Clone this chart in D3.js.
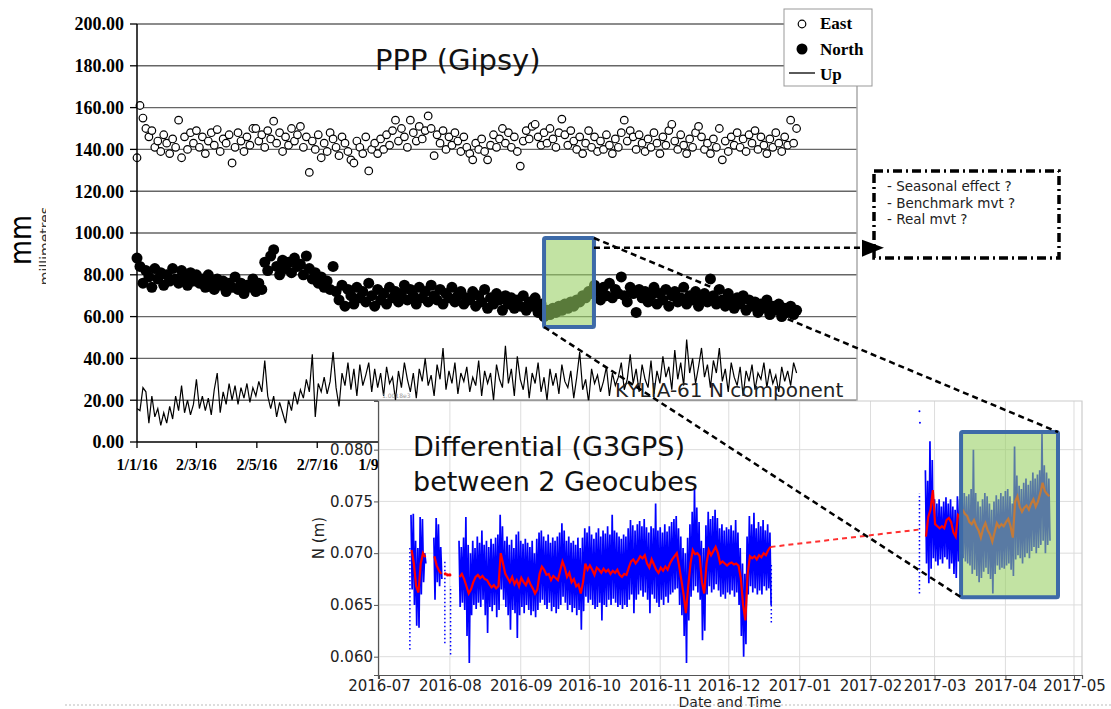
<!DOCTYPE html>
<html>
<head>
<meta charset="utf-8">
<script src="https://cdn.jsdelivr.net/npm/d3@7"></script>
<style>
  body { margin: 0; background: #fff; }
  svg { display: block; }
</style>
</head>
<body>
<div class="chart"></div>
<script>
/* ---------- PPP (Gipsy) : mm, one sample every 3 days from 1/1/16 ---------- */
var pppStep = 3;
var eastMm = [136,161,155,150,146,149,141,144,139,147,143,138,145,141,154,136,146,140,148,143,
  149,141,146,138,144,148,142,149.5,139,145,143,147,133.5,141,148,144,139,146,142,150,
  150,144,147,141,149,145,153.5,143,148,139,146,142,150,144,147,151,141,146,129,144,
  140,147,136,143,139,148,145,141,137,146,143,139,135,133.5,144,141,138,146,129.7,140,
  143,138,145,140,147,142,149,154,144,150,146,141,154,148,144,151,145,149,156,150,
  137,147,143,149,140,146,142,148,144,139,146,141,138,135,143,140,145,139,135,142,
  147,141,145,150,143,148,141,146,139,132,144,149,145,151,152,146,142,148,143,150,
  145,141,148,154.5,147,142,149,144,140,146,138,143,149,141,146,139,144,140,147,142,
  138,145,141,148,154,144,149,146,140,147,143,139,145,141,148,143,138,146,142,149,
  152,144,140,147,142,138,145,141,148,151,146,140,143,138,145,141,150,135,144,139,
  146,142,148,141,145,139,147,143,149,140,146,142,138,145,141,148,143,139,146,142,154,143,150];
var northMm = [88,84,76,82,79,74,83,78,81,75,80,77,83,78,76,82,79,75,81,77,80,76,
  78,74,80,76,73,78,75,77,72,76,74,79,73,76,71,75,74,78,72,76,73,
  86,82,89,
  92,84,80,87,83,86,81,88,84,85,80,89,
  83,78,81,76,79,74,77,73,
  84,72,68,75,65,73,70,66,74,69,72,67,76,70,65,73,68,71,66,74,69,72,67,
  71,75,68,73,70,66,74,69,72,67,75,70,68,73,66,71,69,74,67,70,72,66,69,
  68,72,65,70,67,73,64,69,66,71,68,63,70,66,69,64,68,65,70,63,67,65,69,62,66,
  60,63,61,64,62,65,63,66,64,67,65,68,67,70,69,72,71,75,
  72,68,74,70,76,69,73,71,79,70,67,74,71,62,73,69,
  72,67,70,74,66,71,68,73,65,70,72,67,69,74,66,70,68,72,65,69,71,67,
  78,70,66,73,68,65,71,67,64,69,66,70,63,68,65,67,62,66,64,68,61,65,63,66,60,64,62,65,61,63];
var upMm = [16,15,26,24,9,22,12,16,8,14,9,17,11,22,15,27,14,20,13,18,
  30,16,22,15,21,13,25,33,14,24,18,28,20,27,18,26,21,28,19,26,
  22,29,24,39,22,16,22,12,19,14,9,20,15,24,18,25,21,30,24,42,
  12,28,24,31,23,29,43,26,17,33,27,38,25,35,22,37,27,32,38,24,35,26,
  33,22,36,28,31,20,34,26,38,30,24,33,21,35,29,40,27,32,22,37,30,45,25,34,28,38,23,33,29,
  36,24,31,27,39,22,34,28,33,20,37,30,26,46,28,35,22,41,30,25,36,21,33,28,38,24,31,20,35,27,
  33,23,37,29,26,34,21,31,43,25,30,19,35,28,32,24,29,36,22,33,27,31,38,25,30,42,28,35,24,37,
  30,26,39,23,34,28,41,31,36,25,44,30,38,27,49,33,40,28,36,45,31,37,26,39,33,45,29,35,24,38,
  31,27,36,22,34,29,37,25,33,30,38,26,35,28,32,24,36,29,34,27,38,33];
var pppYTicks = [0,20,40,60,80,100,120,140,160,180,200];
var pppTickDays = [0,60,121,182,244];
var pppTickLabels = ["1/1/16","2/3/16","2/5/16","2/7/16","1/9/16"];
var pppZoomDays = [411, 461.4];
var pppZoomMm = [55, 97.6];
var pppArrowMm = 93;

/* ---------- G3GPS differential : N in metres, daily max / min / smoothed ---------- */
var julyStart = 14, julyHi = [0.0737,0.0738,0.0712,0.0705,0.0735,0.0733,0.0700],
    julyLo = [0.0665,0.0650,0.0630,0.0628,0.0660,0.0672,0.0690],
    julyMean = [0.0703,0.0690,0.0668,0.0662,0.0690,0.0700,0.0696];
var lateJulyStart = 24, lateJulyHi = [0.0715,0.0734,0.0728,0.0706],
    lateJulyLo = [0.0655,0.0672,0.0668,0.0675],
    lateJulyMean = [0.0697,0.0688,0.0683,0.0680];
var mainStart = 35;
var mainHi = [0.0712,0.0706,0.0715,0.0735,0.0708,0.0700, 0.0712,0.0705,0.0716,0.0710,0.0722,0.0708,
  0.0712,0.0706,0.0714,0.0709,0.0715,0.0718, 0.0737,0.0726,0.0712,0.0716,0.0708,0.0713,
  0.0705,0.0718,0.0721,0.0712,0.0709,0.0714, 0.0710,0.0706,0.0712,0.0700,0.0714,0.0720,
  0.0722,0.0716,0.0712,0.0718,0.0710,0.0715, 0.0712,0.0716,0.0720,0.0729,0.0722,0.0712,
  0.0716,0.0710,0.0712,0.0708,0.0715,0.0705, 0.0715,0.0724,0.0720,0.0726,0.0718,0.0714,
  0.0720,0.0724,0.0716,0.0722,0.0719,0.0726, 0.0718,0.0737,0.0722,0.0720,0.0716,0.0714,
  0.0718,0.0716,0.0724,0.0732,0.0727,0.0722, 0.0728,0.0731,0.0726,0.0733,0.0725,0.0720,
  0.0726,0.0724,0.0748,0.0722,0.0725,0.0720, 0.0728,0.0721,0.0726,0.0730,0.0733,0.0736,
  0.0724,0.0716,0.0705,0.0700,0.0715,0.0728, 0.0740,0.0763,0.0744,0.0730,0.0712,0.0705,
  0.0727,0.0740,0.0733,0.0736,0.0742,0.0734, 0.0724,0.0728,0.0722,0.0725,0.0723,0.0727,
  0.0722,0.0732,0.0720,0.0705,0.0690,0.0680, 0.0716,0.0736,0.0728,0.0739,0.0724,0.0730,
  0.0726,0.0732,0.0722,0.0728,0.0720];
var mainLo = [0.0648,0.0652,0.0645,0.0620,0.0594,0.0640, 0.0650,0.0646,0.0652,0.0648,0.0655,0.0640,
  0.0623,0.0648,0.0644,0.0650,0.0638,0.0645, 0.0665,0.0655,0.0648,0.0640,0.0626,0.0645,
  0.0642,0.0618,0.0640,0.0648,0.0642,0.0650, 0.0645,0.0640,0.0644,0.0638,0.0645,0.0652,
  0.0655,0.0650,0.0646,0.0652,0.0644,0.0648, 0.0642,0.0646,0.0650,0.0658,0.0652,0.0645,
  0.0650,0.0643,0.0647,0.0640,0.0645,0.0626, 0.0644,0.0658,0.0652,0.0655,0.0650,0.0646,
  0.0648,0.0652,0.0635,0.0650,0.0648,0.0655, 0.0650,0.0656,0.0652,0.0648,0.0650,0.0646,
  0.0650,0.0648,0.0655,0.0660,0.0642,0.0655, 0.0660,0.0664,0.0658,0.0662,0.0655,0.0642,
  0.0660,0.0656,0.0652,0.0648,0.0655,0.0650, 0.0658,0.0652,0.0660,0.0662,0.0665,0.0666,
  0.0650,0.0640,0.0620,0.0594,0.0635,0.0658, 0.0664,0.0668,0.0662,0.0655,0.0616,0.0625,
  0.0660,0.0668,0.0662,0.0665,0.0670,0.0664, 0.0658,0.0660,0.0656,0.0662,0.0660,0.0664,
  0.0658,0.0662,0.0650,0.0620,0.0600,0.0612, 0.0660,0.0668,0.0662,0.0666,0.0660,0.0664,
  0.0660,0.0668,0.0664,0.0666,0.0650];
var mainMean = [0.0677,0.0680,0.0675,0.0668,0.0661,0.0665, 0.0672,0.0677,0.0679,0.0676,0.0678,0.0675,
  0.0674,0.0670,0.0667,0.0669,0.0666,0.0668, 0.0700,0.0690,0.0680,0.0676,0.0672,0.0677,
  0.0670,0.0674,0.0668,0.0676,0.0672,0.0669, 0.0675,0.0670,0.0666,0.0661,0.0665,0.0680,
  0.0687,0.0684,0.0679,0.0680,0.0674,0.0678, 0.0676,0.0674,0.0683,0.0692,0.0686,0.0677,
  0.0681,0.0672,0.0675,0.0668,0.0670,0.0661, 0.0672,0.0690,0.0684,0.0688,0.0684,0.0679,
  0.0686,0.0684,0.0681,0.0685,0.0682,0.0684, 0.0680,0.0683,0.0681,0.0684,0.0679,0.0677,
  0.0680,0.0679,0.0686,0.0692,0.0694,0.0690, 0.0693,0.0697,0.0695,0.0698,0.0690,0.0686,
  0.0694,0.0689,0.0684,0.0681,0.0686,0.0683, 0.0687,0.0684,0.0690,0.0694,0.0697,0.0700,
  0.0688,0.0674,0.0660,0.0642,0.0668,0.0690, 0.0703,0.0699,0.0700,0.0697,0.0672,0.0661,
  0.0690,0.0703,0.0698,0.0702,0.0706,0.0700, 0.0690,0.0692,0.0690,0.0688,0.0690,0.0691,
  0.0689,0.0690,0.0688,0.0676,0.0650,0.0635, 0.0680,0.0697,0.0695,0.0697,0.0694,0.0698,
  0.0696,0.0700,0.0698,0.0703,0.0706];
var springStart = 239;
var springHi = [0.0780,0.0770,0.0808,0.0790,0.0752,0.0748, 0.0752,0.0745,0.0750,0.0754,0.0748,0.0752,
  0.0745,0.0742,0.0755,0.0752,0.0760,0.0758, 0.0755,0.0757,0.0762,0.0800,0.0758,0.0750,
  0.0745,0.0752,0.0758,0.0755,0.0748,0.0742, 0.0750,0.0756,0.0752,0.0758,0.0755,0.0760,
  0.0762,0.0755,0.0748,0.0803,0.0775,0.0765, 0.0762,0.0768,0.0772,0.0766,0.0770,0.0778,
  0.0772,0.0776,0.0780,0.0815,0.0785,0.0778, 0.0772];
var springLo = [0.0690,0.0671,0.0685,0.0695,0.0692,0.0688, 0.0694,0.0690,0.0696,0.0694,0.0685,0.0690,
  0.0680,0.0676,0.0692,0.0690,0.0695,0.0692, 0.0690,0.0688,0.0680,0.0684,0.0678,0.0672,
  0.0676,0.0682,0.0686,0.0680,0.0675,0.0661, 0.0680,0.0688,0.0684,0.0686,0.0685,0.0688,
  0.0690,0.0684,0.0678,0.0694,0.0698,0.0695, 0.0690,0.0696,0.0700,0.0695,0.0702,0.0706,
  0.0700,0.0705,0.0708,0.0712,0.0700,0.0708, 0.0712];
var springMean = [0.0716,0.0735,0.0742,0.0761,0.0728,0.0726, 0.0724,0.0726,0.0724,0.0732,0.0734,0.0730,
  0.0720,0.0716,0.0737,0.0735,0.0742,0.0738, 0.0736,0.0730,0.0728,0.0732,0.0726,0.0722,
  0.0715,0.0724,0.0729,0.0722,0.0718,0.0711, 0.0720,0.0729,0.0725,0.0728,0.0726,0.0730,
  0.0733,0.0726,0.0715,0.0750,0.0755,0.0745, 0.0740,0.0744,0.0746,0.0742,0.0748,0.0752,
  0.0745,0.0750,0.0758,0.0768,0.0760,0.0757, 0.0755];
var sparseDays = [13.5, 28.8, 31.3, 171.6, 236.4];
var sparseLo = [0.0607, 0.0613, 0.0602, 0.0633, 0.0661];
var sparseHi = [0.0705, 0.0692, 0.0668, 0.0690, 0.0758];
var outlierDays = [236.4, 236.6], outlierN = [0.0837, 0.0826];
var meanDotDays = [29, 30, 31], meanDotN = [0.0680, 0.0679, 0.0679];
var gapEndDay = 237, gapEndN = 0.0723;
var gYTicks = [0.060, 0.065, 0.070, 0.075, 0.080];
var gZoomDays = [254.6, 297];
var gZoomN = [0.06574, 0.0817];

var notes = ["- Seasonal effect ?", "- Benchmark mvt ?", "- Real mvt ?"];

/* ---------- drawing ---------- */
var serif = '"Liberation Serif", "Times New Roman", serif';
var sans = '"DejaVu Sans", sans-serif';
var zoomFill = "#98cf62", zoomOpacity = 0.59, zoomStroke = "#3d6aa8";

var svg = d3.select('.chart').append('svg')
    .attr('width', 1111).attr('height', 709)
    .style('font-family', sans);

var xP = d3.scaleLinear().domain([0, 727]).range([137, 857]);
var yP = d3.scaleLinear().domain([0, 200]).range([442, 24]);

var ppp = svg.append('g').attr('class', 'ppp');

ppp.selectAll('.grid').data(pppYTicks.slice(1)).enter()
    .append('line')
    .attr('x1', xP(0)).attr('x2', xP(727))
    .attr('y1', d => yP(d)).attr('y2', d => yP(d))
    .attr('stroke', '#666').attr('stroke-width', 1.4);
ppp.append('line')
    .attr('x1', xP(727)).attr('x2', xP(727)).attr('y1', yP(200)).attr('y2', yP(0))
    .attr('stroke', '#aaa').attr('stroke-width', 1.5);

/* Up line */
var upLine = d3.line()
    .x((d, i) => xP(i * pppStep))
    .y(d => yP(d));
ppp.append('path')
    .attr('d', upLine(upMm))
    .attr('fill', 'none').attr('stroke', '#000').attr('stroke-width', 1.2);

/* North */
ppp.append('g').selectAll('circle')
    .data(northMm).enter()
    .append('circle')
    .attr('cx', (d, i) => xP(i * pppStep))
    .attr('cy', d => yP(d))
    .attr('r', 5.5)
    .attr('fill', '#000');

/* East */
ppp.append('g').selectAll('circle')
    .data(eastMm).enter()
    .append('circle')
    .attr('cx', (d, i) => xP(i * pppStep))
    .attr('cy', d => yP(d))
    .attr('r', 3.8)
    .attr('fill', '#fff').attr('stroke', '#000').attr('stroke-width', 1.2);

/* Axes */
ppp.append('line')
    .attr('x1', xP(0)).attr('x2', xP(0)).attr('y1', yP(200)).attr('y2', yP(0))
    .attr('stroke', '#000').attr('stroke-width', 1.5);
ppp.append('line')
    .attr('x1', xP(0)).attr('x2', xP(727)).attr('y1', yP(0)).attr('y2', yP(0))
    .attr('stroke', '#000').attr('stroke-width', 1.5);
ppp.selectAll('.ytick').data(pppYTicks).enter()
    .append('line')
    .attr('x1', xP(0) - 7).attr('x2', xP(0))
    .attr('y1', d => yP(d)).attr('y2', d => yP(d))
    .attr('stroke', '#000').attr('stroke-width', 1.3);
ppp.selectAll('.ylab').data(pppYTicks).enter()
    .append('text')
    .attr('x', xP(0) - 13).attr('y', d => yP(d))
    .attr('dy', '0.35em').attr('text-anchor', 'end')
    .style('font-family', serif).style('font-weight', 'bold').style('font-size', '18px')
    .text(d => d.toFixed(2));
ppp.selectAll('.xtick').data(pppTickDays).enter()
    .append('line')
    .attr('x1', d => xP(d)).attr('x2', d => xP(d))
    .attr('y1', yP(0)).attr('y2', yP(0) + 6)
    .attr('stroke', '#000').attr('stroke-width', 1.3);
ppp.selectAll('.xlab').data(pppTickDays).enter()
    .append('text')
    .attr('x', d => xP(d)).attr('y', yP(0) + 28)
    .attr('text-anchor', 'middle')
    .style('font-family', serif).style('font-weight', 'bold').style('font-size', '16px')
    .text((d, i) => pppTickLabels[i]);

/* y label */
ppp.append('text')
    .attr('transform', 'translate(31,240) rotate(-90)')
    .attr('text-anchor', 'middle')
    .style('font-size', '30px')
    .attr('textLength', 50).attr('lengthAdjust', 'spacingAndGlyphs')
    .text('mm');
svg.append('clipPath').attr('id', 'cutUnit')
    .append('rect').attr('x', 36).attr('y', 150).attr('width', 10).attr('height', 200);
ppp.append('g').attr('clip-path', 'url(#cutUnit)')
    .append('text')
    .attr('transform', 'translate(50,246) rotate(-90)')
    .attr('text-anchor', 'middle')
    .style('font-size', '14px').attr('fill', '#333')
    .text('millimetres');

/* title */
ppp.append('text')
    .attr('x', 375).attr('y', 70)
    .style('font-size', '29px').attr('fill', '#111')
    .text('PPP (Gipsy)');

/* legend */
var leg = ppp.append('g').attr('transform', 'translate(784,9)');
leg.append('rect').attr('width', 88).attr('height', 77)
    .attr('fill', '#fff').attr('stroke', '#999');
leg.append('circle').attr('cx', 18).attr('cy', 15).attr('r', 3.8)
    .attr('fill', '#fff').attr('stroke', '#000').attr('stroke-width', 1.2);
leg.append('circle').attr('cx', 18).attr('cy', 40).attr('r', 5.5).attr('fill', '#000');
leg.append('line').attr('x1', 5).attr('x2', 31).attr('y1', 64).attr('y2', 64)
    .attr('stroke', '#000').attr('stroke-width', 1.3);
leg.selectAll('text').data(['East', 'North', 'Up']).enter()
    .append('text')
    .attr('x', 36).attr('y', (d, i) => 20 + i * 25.5)
    .style('font-family', serif).style('font-weight', 'bold').style('font-size', '17px')
    .text(d => d);

/* zoom window on North */
ppp.append('rect')
    .attr('x', xP(pppZoomDays[0])).attr('y', yP(pppZoomMm[1]))
    .attr('width', xP(pppZoomDays[1]) - xP(pppZoomDays[0]))
    .attr('height', yP(pppZoomMm[0]) - yP(pppZoomMm[1]))
    .attr('fill', zoomFill).attr('fill-opacity', zoomOpacity)
    .attr('stroke', zoomStroke).attr('stroke-width', 4).attr('rx', 1.5);

/* inset title of the pasted plot */
svg.append('text')
    .attr('x', 615).attr('y', 397)
    .style('font-size', '20px').attr('fill', '#222')
    .text('KYLIA-61 N component');
svg.append('text')
    .attr('x', 382).attr('y', 398)
    .style('font-size', '6px').attr('fill', '#999')
    .text('1.0018e3');

/* ---------- G3GPS inset ---------- */
var t0 = Date.UTC(2016, 6, 1);
function dayDate(d) { return new Date(t0 + d * 864e5); }
var xG = d3.scaleUtc().domain([dayDate(-0.44), dayDate(307.5)]).range([378, 1082]);
var yG = d3.scaleLinear().domain([0.05823, 0.0847]).range([675, 401]);

var g = svg.append('g').attr('class', 'g3gps');
g.append('rect')
    .attr('x', 378).attr('y', 401).attr('width', 704).attr('height', 274)
    .attr('fill', '#fff');

var months = d3.utcMonth.range(dayDate(0), dayDate(305));
g.selectAll('.vgrid').data(months).enter()
    .append('line')
    .attr('x1', d => xG(d)).attr('x2', d => xG(d))
    .attr('y1', yG.range()[1]).attr('y2', yG.range()[0])
    .attr('stroke', '#ddd').attr('stroke-width', 1);
g.selectAll('.hgrid').data(gYTicks).enter()
    .append('line')
    .attr('x1', xG.range()[0]).attr('x2', xG.range()[1])
    .attr('y1', d => yG(d)).attr('y2', d => yG(d))
    .attr('stroke', '#ddd').attr('stroke-width', 1);

/* raw series: daily max then min, as one zigzag per segment */
function zigzag(start, hi, lo) {
    var pts = [];
    hi.forEach(function(h, i) {
        pts.push([start + i, h]);
        pts.push([start + i + 0.5, lo[i]]);
    });
    return pts;
}
var rawLine = d3.line().x(d => xG(dayDate(d[0]))).y(d => yG(d[1]));
var segments = [
    [julyStart, julyHi, julyLo, julyMean],
    [lateJulyStart, lateJulyHi, lateJulyLo, lateJulyMean],
    [mainStart, mainHi, mainLo, mainMean],
    [springStart, springHi, springLo, springMean]
];
g.selectAll('.raw').data(segments).enter()
    .append('path')
    .attr('d', s => rawLine(zigzag(s[0], s[1], s[2])))
    .attr('fill', 'none').attr('stroke', '#0000ff').attr('stroke-width', 1.7)
    .attr('stroke-linejoin', 'bevel');

/* sparse samples */
g.selectAll('.sparse').data(sparseDays).enter()
    .append('line')
    .attr('x1', d => xG(dayDate(d))).attr('x2', d => xG(dayDate(d)))
    .attr('y1', (d, i) => yG(sparseLo[i])).attr('y2', (d, i) => yG(sparseHi[i]))
    .attr('stroke', '#0000ff').attr('stroke-width', 1.5).attr('stroke-dasharray', '1.5,2.5');
g.selectAll('.outlier').data(outlierDays).enter()
    .append('circle')
    .attr('cx', d => xG(dayDate(d))).attr('cy', (d, i) => yG(outlierN[i]))
    .attr('r', 1).attr('fill', '#0000ff');

/* smoothed series */
var meanLine = d3.line().x(d => xG(dayDate(d[0]))).y(d => yG(d[1]));
g.selectAll('.mean').data(segments).enter()
    .append('path')
    .attr('d', s => meanLine(s[3].map((v, i) => [s[0] + i + 0.25, v])))
    .attr('fill', 'none').attr('stroke', '#ff0000').attr('stroke-width', 2.2);
g.selectAll('.meandot').data(meanDotDays).enter()
    .append('circle')
    .attr('cx', d => xG(dayDate(d))).attr('cy', (d, i) => yG(meanDotN[i]))
    .attr('r', 1.6).attr('fill', '#ff0000');
var gapFrom = [mainStart + mainMean.length - 1 + 0.25, mainMean[mainMean.length - 1]];
var gapTo = [gapEndDay, gapEndN];
g.append('path')
    .attr('d', meanLine([gapFrom, gapTo]))
    .attr('stroke', '#ff3030').attr('stroke-width', 2).attr('stroke-dasharray', '5,4');

/* zoom window */
g.append('rect')
    .attr('x', xG(dayDate(gZoomDays[0]))).attr('y', yG(gZoomN[1]))
    .attr('width', xG(dayDate(gZoomDays[1])) - xG(dayDate(gZoomDays[0])))
    .attr('height', yG(gZoomN[0]) - yG(gZoomN[1]))
    .attr('fill', zoomFill).attr('fill-opacity', zoomOpacity)
    .attr('stroke', zoomStroke).attr('stroke-width', 4).attr('rx', 1.5);

/* spines and axes */
g.append('path')
    .attr('d', 'M378,401H1082V675')
    .attr('fill', 'none').attr('stroke', '#ccc').attr('stroke-width', 1.2);
var xAxis = d3.axisBottom(xG).tickValues(months)
    .tickFormat(d3.utcFormat('%Y-%m')).tickSize(4).tickPadding(1);
var yAxis = d3.axisLeft(yG).tickValues(gYTicks)
    .tickFormat(d3.format('.3f')).tickSize(4).tickPadding(1);
g.append('g').attr('transform', 'translate(0,675)').call(xAxis);
g.append('g').attr('transform', 'translate(378,0)').call(yAxis);
g.selectAll('.domain').attr('stroke', '#555').attr('stroke-width', 1.2);
g.selectAll('.tick line').attr('stroke', '#555');
g.selectAll('.tick text')
    .style('font-family', sans).style('font-size', '15px').attr('fill', '#222');
g.append('text')
    .attr('transform', 'translate(324,538) rotate(-90)')
    .attr('text-anchor', 'middle')
    .style('font-size', '15px').attr('fill', '#222')
    .text('N (m)');
g.append('text')
    .attr('x', 730).attr('y', 707)
    .attr('text-anchor', 'middle')
    .style('font-size', '14px').attr('fill', '#222')
    .text('Date and Time');
g.append('text')
    .attr('x', 413).attr('y', 456)
    .style('font-size', '27px').attr('fill', '#111')
    .text('Differential (G3GPS)');
g.append('text')
    .attr('x', 413).attr('y', 491)
    .style('font-size', '27px').attr('fill', '#111')
    .text('between 2 Geocubes');

svg.append('line')
    .attr('x1', 65).attr('x2', 1111).attr('y1', 705).attr('y2', 705)
    .attr('stroke', '#bbb').attr('stroke-dasharray', '2,2');

/* ---------- annotations ---------- */
var ann = svg.append('g');
ann.append('rect')
    .attr('x', 874).attr('y', 171).attr('width', 185).attr('height', 87)
    .attr('fill', 'none').attr('stroke', '#000')
    .attr('stroke-width', 3.5).attr('stroke-dasharray', '9,4,2,4');
ann.selectAll('text').data(notes).enter()
    .append('text')
    .attr('x', 887).attr('y', (d, i) => 191 + i * 16.5)
    .style('font-size', '13.5px').attr('fill', '#222')
    .text(d => d);

var arrowY = yP(pppArrowMm);
ann.append('line')
    .attr('x1', xP(pppZoomDays[1])).attr('x2', 865)
    .attr('y1', arrowY).attr('y2', arrowY)
    .attr('stroke', '#000').attr('stroke-width', 2.5).attr('stroke-dasharray', '6,4');
ann.append('path')
    .attr('d', 'M862,' + (arrowY - 8) + 'L884,' + arrowY + 'L862,' + (arrowY + 9) + 'Z')
    .attr('fill', '#000');

var conn = [
    [[xP(pppZoomDays[1]), yP(pppZoomMm[1])], [xG(dayDate(gZoomDays[1])), yG(gZoomN[1])]],
    [[xP(pppZoomDays[0]), yP(pppZoomMm[0])], [xG(dayDate(gZoomDays[0])), yG(gZoomN[0])]]
];
ann.selectAll('.conn').data(conn).enter()
    .append('path')
    .attr('d', d => d3.line()(d))
    .attr('stroke', '#000').attr('stroke-width', 2.5).attr('stroke-dasharray', '6,4');
</script>
</body>
</html>
